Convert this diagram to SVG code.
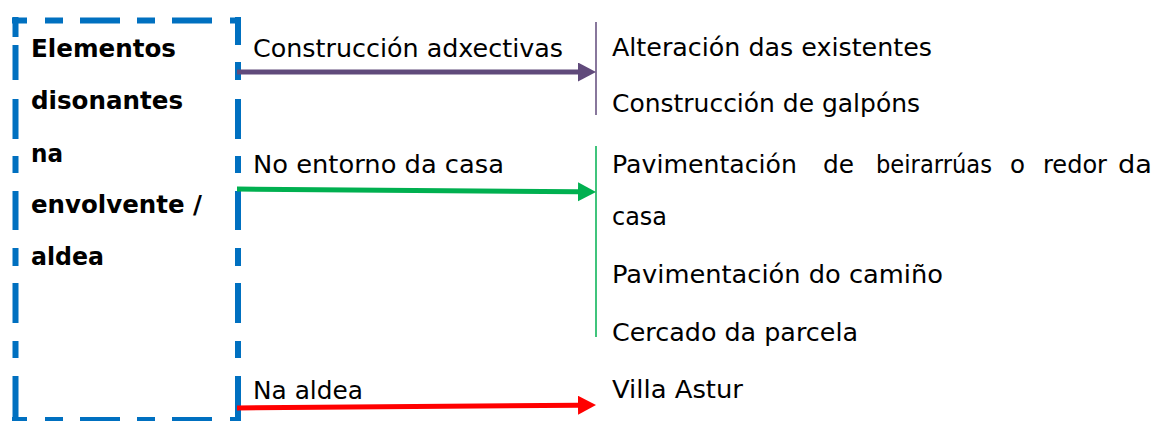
<svg xmlns="http://www.w3.org/2000/svg" width="1157" height="421" viewBox="0 0 1157 421">
<style>
.t{font-family:"DejaVu Sans","Liberation Sans",sans-serif;font-size:25px;fill:#000}
.b{font-family:"DejaVu Sans","Liberation Sans",sans-serif;font-size:25px;font-weight:bold;fill:#000}
.box{fill:none;stroke:#0070C0;stroke-width:6}
</style>
<defs>
<marker id="ap" markerUnits="userSpaceOnUse" markerWidth="20" markerHeight="20" refX="0" refY="9.5" orient="auto" viewBox="0 0 20 20"><path d="M0,0 L18,9.5 L0,19 Z" fill="#604A7B"/></marker>
<marker id="ag" markerUnits="userSpaceOnUse" markerWidth="20" markerHeight="20" refX="0" refY="9.5" orient="auto" viewBox="0 0 20 20"><path d="M0,0 L18,9.5 L0,19 Z" fill="#00B050"/></marker>
<marker id="ar" markerUnits="userSpaceOnUse" markerWidth="20" markerHeight="20" refX="0" refY="9.5" orient="auto" viewBox="0 0 20 20"><path d="M0,0 L18,9.5 L0,19 Z" fill="#FF0000"/></marker>
</defs>
<rect width="1157" height="421" fill="#fff"/>
<g id="main-node">
<path class="box" d="M12,20.5H27M45,20.5H63M80,20.5H120M137,20.5H155M172,20.5H212M230,20.5H241
M12,420H27M45,420H63M80,420H120M137,420H155M172,420H212M230,420H241
M15.5,17V37M15.5,45V80M15.5,99V139M15.5,156V173M15.5,191V230M15.5,248V266M15.5,283V323M15.5,341V358M15.5,376V421
M238,17V45M238,62V80M238,99V139M238,156V173M238,191V230M238,248V266M238,283V323M238,341V358M238,376V421"/>
<text class="b" x="31" y="57" textLength="145" lengthAdjust="spacingAndGlyphs">Elementos</text>
<text class="b" x="31" y="109" textLength="152" lengthAdjust="spacingAndGlyphs">disonantes</text>
<text class="b" x="31" y="162" textLength="32" lengthAdjust="spacingAndGlyphs">na</text>
<text class="b" x="31" y="213" textLength="171" lengthAdjust="spacingAndGlyphs">envolvente /</text>
<text class="b" x="31" y="265" textLength="73" lengthAdjust="spacingAndGlyphs">aldea</text>
</g>
<g id="connectors">
<line x1="237" y1="72" x2="578" y2="72" stroke="#604A7B" stroke-width="5" marker-end="url(#ap)"/>
<line x1="237" y1="189" x2="578" y2="191.8" stroke="#00B050" stroke-width="5" marker-end="url(#ag)"/>
<line x1="237" y1="408" x2="578" y2="405.2" stroke="#FF0000" stroke-width="5" marker-end="url(#ar)"/>
<line x1="596" y1="22" x2="596" y2="115" stroke="#604A7B" stroke-width="1.5"/>
<line x1="596" y1="146" x2="596" y2="337" stroke="#00B050" stroke-width="1.5"/>
</g>
<g id="label-construccion">
<text class="t" x="253" y="57" textLength="310" lengthAdjust="spacingAndGlyphs">Construcción adxectivas</text>
</g>
<g id="label-entorno">
<text class="t" x="253" y="173" textLength="251" lengthAdjust="spacingAndGlyphs">No entorno da casa</text>
</g>
<g id="label-aldea">
<text class="t" x="253" y="399" textLength="110" lengthAdjust="spacingAndGlyphs">Na aldea</text>
</g>
<g id="node-construccion">
<text class="t" x="612" y="56" textLength="320" lengthAdjust="spacingAndGlyphs">Alteración das existentes</text>
<text class="t" x="612" y="112" textLength="308" lengthAdjust="spacingAndGlyphs">Construcción de galpóns</text>
</g>
<g id="node-entorno">
<text class="t" x="612" y="173" textLength="185" lengthAdjust="spacingAndGlyphs">Pavimentación</text>
<text class="t" x="823" y="173" textLength="31" lengthAdjust="spacingAndGlyphs">de</text>
<text class="t" x="876" y="173" textLength="116" lengthAdjust="spacingAndGlyphs">beirarrúas</text>
<text class="t" x="1010" y="173" textLength="15" lengthAdjust="spacingAndGlyphs">o</text>
<text class="t" x="1043" y="173" textLength="64" lengthAdjust="spacingAndGlyphs">redor</text>
<text class="t" x="1118" y="173" textLength="34" lengthAdjust="spacingAndGlyphs">da</text>
<text class="t" x="612" y="225" textLength="55" lengthAdjust="spacingAndGlyphs">casa</text>
<text class="t" x="612" y="283" textLength="331" lengthAdjust="spacingAndGlyphs">Pavimentación do camiño</text>
<text class="t" x="612" y="341" textLength="246" lengthAdjust="spacingAndGlyphs">Cercado da parcela</text>
</g>
<g id="node-aldea">
<text class="t" x="612" y="398" textLength="131" lengthAdjust="spacingAndGlyphs">Villa Astur</text>
</g>
</svg>
